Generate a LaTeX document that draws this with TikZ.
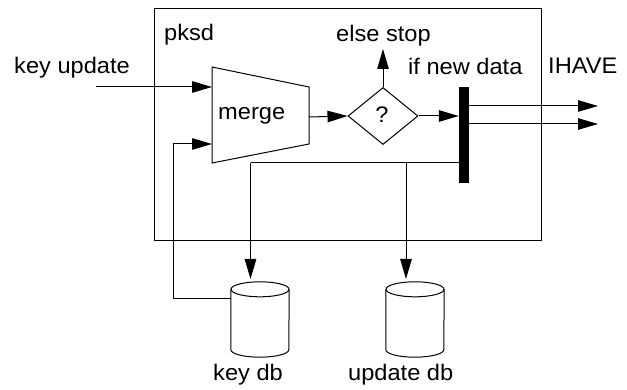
\documentclass[tikz,border=0pt]{standalone}
\usepackage{fontspec}
\setmainfont{Liberation Sans}[FakeStretch=1.05]
\usetikzlibrary{arrows.meta,shapes.geometric}
\newcommand\drawdb[1]{%
  \draw[ln] ([yshift=-7.5pt]#1.north west) -- ([yshift=7.5pt]#1.south west)
    arc[start angle=180,end angle=360,x radius=29pt,y radius=7.5pt]
    -- ([yshift=-7.5pt]#1.north east);
  \draw[ln] ([yshift=-7.5pt]#1.north) ellipse[x radius=29pt,y radius=7.5pt];}
\begin{document}
\begin{tikzpicture}[x=1pt,y=-1pt,
  every node/.style={font=\fontsize{22.5}{27}\selectfont, inner sep=0pt},
  ln/.style={line width=1pt, draw=black},
  arr/.style={ln, -{Triangle[length=20pt,width=11.5pt]}},
  lbl/.style={anchor=base west},
  db/.style={rectangle, minimum width=58pt, minimum height=75pt}]
\useasboundingbox (0,0) rectangle (627,390);
% outer pksd box
\draw[ln] (154,9) rectangle (541,241);
\node[lbl] (pksd) at (164,40.7) {pksd};
% merge trapezoid
\coordinate (mtl) at (212,67);
\coordinate (mtr) at (309,87);
\coordinate (mbr) at (309,144);
\coordinate (mbl) at (212,163);
\draw[ln] (mtl) -- (mtr) -- (mbr) -- (mbl) -- cycle;
\node[lbl] (merge) at (218,120) {merge};
\coordinate (min1) at (212,87);
\coordinate (min2) at (212,144);
\coordinate (mout) at (309,117);
% key update input
\node[lbl] (ku) at (14,74) {key update};
\coordinate (kustart) at (96,87);
\draw[arr] (kustart) -- (min1);
% decision
\node[diamond, draw, line width=1pt, minimum width=70pt, minimum height=57pt] (q) at (383,116) {};
\node (qm) at (382,115) {?};
\draw[arr] (mout) -- (q.west);
\coordinate (stop) at (383,49);
\draw[arr] (q.north) -- (stop);
\node[anchor=base] (else) at (383.5,41.7) {else stop};
% bar
\node[fill=black, minimum width=10pt, minimum height=96pt] (bar) at (464,135) {};
\draw[arr] (q.east) -- (q.east -| bar.west);
\node[lbl] (ifnew) at (408,75) {if new data};
\node[lbl] (ihave) at (548,73.3) {IHAVE};
\coordinate (o1) at (598,106);
\coordinate (o2) at (598,124);
\draw[arr] (o1 -| bar.east) -- (o1);
\draw[arr] (o2 -| bar.east) -- (o2);
% databases
\node[db] (kdb) at (260,319.5) {};
\node[db] (udb) at (415,319.5) {};
\drawdb{kdb}
\drawdb{udb}
\node[lbl] (kdbl) at (213,380) {key db};
\node[lbl] (udbl) at (348,380) {update db};
\coordinate (split) at (250.5,163);
\coordinate (kin) at (250.5,279);
\coordinate (tap) at (406,163);
\coordinate (uin) at (406,279);
\draw[ln] (split -| bar.west) -- (split);
\draw[arr] (split) -- (kin);
\draw[arr] (tap) -- (uin);
% feedback from key db
\coordinate (fb) at (173,299);
\draw[arr] (fb -| kdb.west) -- (fb) -- (fb |- min2) -- (min2);
\end{tikzpicture}
\end{document}
